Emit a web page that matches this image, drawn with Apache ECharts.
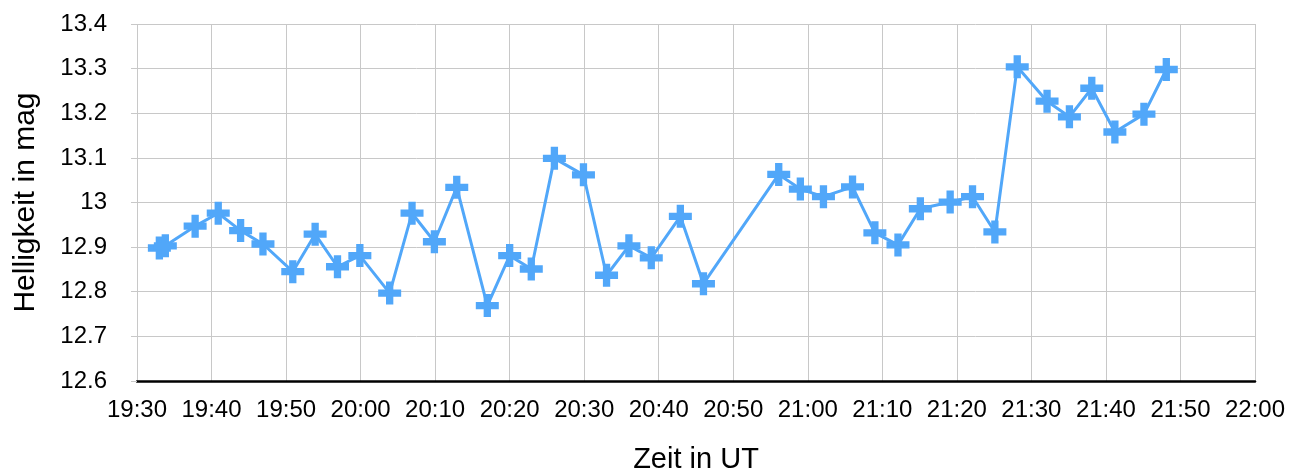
<!DOCTYPE html>
<html>
<head>
<meta charset="utf-8">
<script src="https://cdn.jsdelivr.net/npm/echarts@6/dist/echarts.min.js"></script>
<style>
html,body{margin:0;padding:0;background:#fff;overflow:hidden;}
#chart{width:1301px;height:468px;}
</style>
</head>
<body>
<div id="chart"></div>
<script>
// Observation times (UT)
const times = ["19:33:00","19:33:48","19:37:48","19:40:54","19:43:54","19:46:54","19:50:54","19:53:54","19:56:54","19:59:54",
  "20:03:54","20:06:54","20:09:54","20:12:54","20:17:00","20:20:00","20:22:54","20:26:00","20:29:54","20:33:00",
  "20:36:00","20:39:00","20:42:54","20:46:00","20:56:06","20:59:00","21:02:06","21:06:00","21:09:00","21:12:06",
  "21:15:06","21:19:06","21:22:06","21:25:06","21:28:06","21:32:06","21:35:06","21:38:06","21:41:12","21:45:06","21:48:06"];
// Brightness in mag
const magnitudes = [12.898,12.903,12.947,12.976,12.937,12.907,12.845,12.929,12.856,12.881,
  12.797,12.976,12.912,13.034,12.769,12.881,12.851,13.099,13.062,12.837,
  12.903,12.876,12.969,12.818,13.063,13.030,13.013,13.035,12.932,12.905,
  12.986,13.001,13.013,12.934,13.304,13.227,13.192,13.256,13.158,13.198,13.298];
const xAxisTitle = "Zeit in UT";
const yAxisTitle = "Helligkeit in mag";

function toMinutes(t){const p=t.split(':').map(Number);return p[0]*60+p[1]+(p[2]||0)/60;}
function fmt(m){const h=Math.floor(m/60), mm=Math.round(m%60);return h+':'+(mm<10?'0':'')+mm;}
const data = times.map((t,i)=>[toMinutes(t), magnitudes[i]]);

const FONT = '"Liberation Sans", Arial, Helvetica, sans-serif';
const chart = echarts.init(document.getElementById('chart'), null, {renderer:'canvas'});
chart.setOption({
  animation:false,
  backgroundColor:'#ffffff',
  grid:{left:137, right:46, top:24, bottom:87, containLabel:false, outerBoundsMode:'none'},
  xAxis:{
    type:'value', min:1170, max:1320, interval:10,
    name:xAxisTitle, nameLocation:'middle', nameGap:64,
    nameTextStyle:{fontFamily:FONT, fontSize:29, color:'#000'},
    axisLine:{show:true, onZero:false, lineStyle:{color:'#000', width:2.5}},
    axisTick:{show:false},
    axisLabel:{formatter:fmt, fontFamily:FONT, fontSize:24, color:'#000', margin:17},
    splitLine:{show:true, lineStyle:{color:'#c8c8c8', width:1}}
  },
  yAxis:{
    type:'value', min:12.6, max:13.4, interval:0.1,
    name:yAxisTitle, nameLocation:'middle', nameGap:96, nameRotate:90,
    nameTextStyle:{fontFamily:FONT, fontSize:30, color:'#000'},
    axisLine:{show:false},
    axisTick:{show:true, length:6, lineStyle:{color:'#c8c8c8'}},
    axisLabel:{fontFamily:FONT, fontSize:24, color:'#000', margin:30,
      formatter:v=>String(Math.round(v*10)/10)},
    splitLine:{show:true, lineStyle:{color:'#c8c8c8', width:1}}
  },
  series:[{
    type:'line', data:data,
    symbol:'path://M7.5,0H14.5V7.5H22V14.5H14.5V22H7.5V14.5H0V7.5H7.5Z',
    symbolSize:23, showAllSymbol:true,
    itemStyle:{color:'#51A7F9'},
    lineStyle:{color:'#51A7F9', width:3}
  }]
});
</script>
</body>
</html>
